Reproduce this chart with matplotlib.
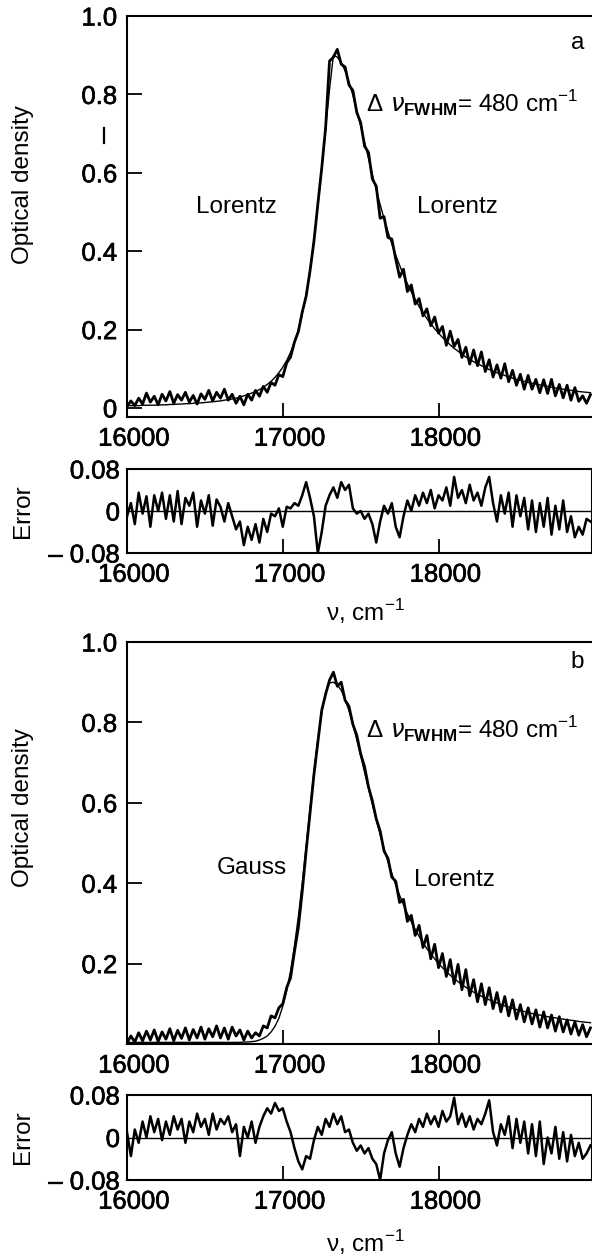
import numpy as np
import matplotlib
matplotlib.use("Agg")
import matplotlib.pyplot as plt
import matplotlib.patheffects as pe
from matplotlib.lines import Line2D
from matplotlib.transforms import ScaledTranslation

plt.rcParams['font.family'] = ['Liberation Sans', 'DejaVu Sans']
plt.rcParams['mathtext.fontset'] = 'custom'
plt.rcParams['mathtext.rm'] = 'Liberation Sans'
plt.rcParams['mathtext.bf'] = 'Liberation Sans:bold'
plt.rcParams['axes.linewidth'] = 1.5

# wavenumber grid, cm^-1 (25 cm^-1 step)
nu = 16000 + 25 * np.arange(120)

# (a) measured optical density
od_a = [
    0.004, 0.018, 0.006, 0.025, 0.010, 0.038, 0.015, 0.030, 0.008, 0.035,
    0.018, 0.042, 0.012, 0.034, 0.020, 0.040, 0.015, 0.032, 0.010, 0.036,
    0.022, 0.045, 0.018, 0.040, 0.025, 0.048, 0.020, 0.035, 0.012, 0.030,
    0.008, 0.035, 0.020, 0.045, 0.030, 0.055, 0.040, 0.065, 0.058, 0.085,
    0.080, 0.115, 0.130, 0.168, 0.195, 0.245, 0.285, 0.350, 0.425, 0.520,
    0.612, 0.715, 0.885, 0.895,
    0.915, 0.877, 0.870, 0.824, 0.810, 0.754, 0.728, 0.668, 0.652, 0.584,
    0.566, 0.484, 0.488, 0.435, 0.431, 0.380, 0.334, 0.354, 0.297, 0.314,
    0.265, 0.279, 0.235, 0.253, 0.210, 0.232, 0.191, 0.208, 0.160, 0.196,
    0.157, 0.175, 0.129, 0.155, 0.112, 0.148, 0.108, 0.143, 0.093, 0.123,
    0.079, 0.110, 0.076, 0.113, 0.067, 0.096, 0.058, 0.086, 0.048, 0.083,
    0.048, 0.073, 0.039, 0.072, 0.037, 0.073, 0.031, 0.060, 0.026, 0.058,
    0.020, 0.052, 0.017, 0.031, 0.012, 0.034,
]

# (a) Lorentz / Lorentz fit
fit_a = [
    0.006, 0.006, 0.006, 0.006, 0.007, 0.007, 0.007, 0.007, 0.008, 0.008,
    0.008, 0.009, 0.009, 0.010, 0.010, 0.011, 0.011, 0.012, 0.013, 0.013,
    0.014, 0.015, 0.016, 0.017, 0.018, 0.020, 0.021, 0.023, 0.025, 0.028,
    0.031, 0.034, 0.038, 0.042, 0.047, 0.053, 0.060, 0.068, 0.078, 0.090,
    0.104, 0.121, 0.142, 0.168, 0.200, 0.240, 0.290, 0.352, 0.428, 0.515,
    0.610, 0.712, 0.812, 0.900,
    0.895, 0.882, 0.860, 0.832, 0.798, 0.760, 0.720, 0.678, 0.637, 0.596,
    0.556, 0.519, 0.483, 0.450, 0.419, 0.390, 0.364, 0.339, 0.317, 0.296,
    0.277, 0.259, 0.243, 0.228, 0.215, 0.202, 0.191, 0.180, 0.170, 0.161,
    0.152, 0.145, 0.137, 0.130, 0.124, 0.118, 0.113, 0.108, 0.103, 0.098,
    0.094, 0.090, 0.086, 0.083, 0.079, 0.076, 0.073, 0.071, 0.068, 0.065,
    0.063, 0.061, 0.059, 0.057, 0.055, 0.053, 0.051, 0.050, 0.048, 0.046,
    0.045, 0.044, 0.042, 0.041, 0.040, 0.039,
]

# (a) fit residual
err_a = [
    -0.010, 0.015, -0.025, 0.035, -0.005, 0.028, -0.030, 0.030, 0.000, 0.035,
    -0.015, 0.030, -0.020, 0.038, -0.025, 0.025, 0.010, 0.035, -0.030, 0.020,
    -0.005, 0.030, -0.028, 0.022, 0.008, -0.020, 0.015, -0.010, -0.035, -0.020,
    -0.065, -0.030, -0.055, -0.025, -0.060, -0.015, -0.040, -0.005, -0.010, 0.005,
    -0.030, 0.008, 0.005, 0.015, 0.010, 0.030, 0.055, 0.025, -0.010, -0.080,
    -0.040, 0.010, 0.030, 0.045, 0.025, 0.055, 0.040, 0.050, 0.005, -0.005,
    0.000, -0.015, -0.005, -0.025, -0.060, -0.020, 0.010, -0.005, 0.015, -0.030,
    -0.050, -0.010, 0.020, 0.000, 0.030, 0.010, 0.035, 0.015, 0.040, 0.005,
    0.030, 0.020, 0.045, 0.010, 0.065, 0.025, 0.040, 0.015, 0.050, 0.020,
    0.035, 0.010, 0.045, 0.065, 0.015, -0.020, 0.030, -0.005, 0.035, -0.030,
    0.030, -0.010, 0.025, -0.035, 0.020, -0.040, 0.015, -0.030, 0.025, -0.045,
    0.010, -0.035, 0.020, -0.040, -0.010, -0.050, -0.030, -0.045, -0.015, -0.020,
]

# (b) measured optical density
od_b = [
    0.003, 0.020, 0.005, 0.028, 0.008, 0.032, 0.010, 0.035, 0.006, 0.030,
    0.012, 0.038, 0.008, 0.034, 0.014, 0.040, 0.010, 0.036, 0.015, 0.042,
    0.012, 0.038, 0.018, 0.045, 0.015, 0.040, 0.012, 0.042, 0.020, 0.035,
    0.010, 0.032, 0.015, 0.028, 0.020, 0.045, 0.040, 0.070, 0.065, 0.090,
    0.100, 0.140, 0.165, 0.230, 0.290, 0.380, 0.480, 0.575, 0.670, 0.750,
    0.830, 0.870, 0.905,
    0.925, 0.890, 0.900, 0.855, 0.840, 0.795, 0.768, 0.722, 0.690, 0.640,
    0.605, 0.560, 0.530, 0.480, 0.462, 0.415, 0.405, 0.352, 0.360, 0.305,
    0.320, 0.270, 0.295, 0.240, 0.270, 0.212, 0.248, 0.190, 0.225, 0.168,
    0.210, 0.150, 0.198, 0.135, 0.185, 0.120, 0.160, 0.105, 0.150, 0.098,
    0.140, 0.088, 0.128, 0.080, 0.118, 0.070, 0.110, 0.062, 0.098, 0.055,
    0.090, 0.050, 0.085, 0.042, 0.080, 0.040, 0.072, 0.032, 0.068, 0.030,
    0.060, 0.025, 0.055, 0.022, 0.048, 0.018, 0.040,
]

# (b) Gauss / Lorentz fit
fit_b = [
    0.004, 0.004, 0.004, 0.004, 0.004, 0.004, 0.004, 0.004, 0.004, 0.004,
    0.004, 0.004, 0.004, 0.004, 0.004, 0.004, 0.004, 0.004, 0.004, 0.004,
    0.004, 0.004, 0.004, 0.004, 0.004, 0.004, 0.004, 0.004, 0.004, 0.004,
    0.005, 0.005, 0.006, 0.007, 0.010, 0.014, 0.020, 0.030, 0.044, 0.064,
    0.094, 0.132, 0.182, 0.244, 0.317, 0.400, 0.491, 0.585, 0.676, 0.758,
    0.826, 0.874, 0.898,
    0.900, 0.893, 0.880, 0.857, 0.829, 0.795, 0.757, 0.717, 0.676, 0.636,
    0.596, 0.558, 0.521, 0.486, 0.454, 0.424, 0.396, 0.370, 0.346, 0.324,
    0.304, 0.285, 0.268, 0.252, 0.237, 0.224, 0.212, 0.200, 0.190, 0.180,
    0.171, 0.163, 0.155, 0.148, 0.141, 0.135, 0.129, 0.124, 0.119, 0.114,
    0.110, 0.106, 0.102, 0.098, 0.095, 0.092, 0.089, 0.086, 0.083, 0.081,
    0.078, 0.076, 0.074, 0.072, 0.070, 0.068, 0.066, 0.065, 0.063, 0.062,
    0.060, 0.059, 0.058, 0.056, 0.055, 0.054, 0.053,
]

# (b) fit residual
err_b = [
    0.010, -0.035, 0.015, -0.010, 0.030, 0.000, 0.040, 0.010, 0.035, -0.005,
    0.030, 0.005, 0.040, 0.015, 0.035, -0.010, 0.030, 0.010, 0.045, 0.020,
    0.035, 0.005, 0.045, 0.015, 0.035, 0.025, 0.040, 0.010, 0.025, -0.035,
    0.020, 0.000, 0.030, -0.010, 0.020, 0.040, 0.055, 0.045, 0.065, 0.050,
    0.055, 0.030, 0.010, -0.020, -0.045, -0.060, -0.035, -0.040, -0.005, 0.020,
    0.005, 0.035, 0.020, 0.045, 0.025, 0.040, 0.010, 0.015, -0.010, -0.025,
    -0.015, -0.030, -0.020, -0.040, -0.050, -0.080, -0.030, -0.005, 0.010, -0.030,
    -0.055, -0.020, 0.005, 0.025, 0.010, 0.035, 0.020, 0.045, 0.025, 0.040,
    0.020, 0.050, 0.030, 0.040, 0.075, 0.025, 0.045, 0.020, 0.040, 0.015,
    0.035, 0.025, 0.045, 0.070, 0.010, -0.015, 0.025, 0.005, 0.040, -0.020,
    0.035, -0.010, 0.030, -0.030, 0.025, -0.035, 0.030, -0.050, 0.000, -0.030,
    0.020, -0.040, 0.010, -0.045, 0.005, -0.035, -0.010, -0.040, -0.030, -0.015,
]

for arr in (od_a, fit_a, err_a, od_b, fit_b, err_b):
    assert len(arr) == len(nu), len(arr)

xticks = [16000, 17000, 18000]
xlim = (16000, 18985)
W, H = 592, 1259


def px_axes(top, bottom, left=127, right=592):
    return [left / W, 1 - bottom / H, (right - left) / W, (bottom - top) / H]


fig = plt.figure(figsize=(W / 100, H / 100), dpi=100)

ax_a = fig.add_axes(px_axes(16, 417))
ax_ea = fig.add_axes(px_axes(469, 553))
ax_b = fig.add_axes(px_axes(642, 1044))
ax_eb = fig.add_axes(px_axes(1095, 1180))

TICK_FS = 18.5
LABEL_FS = 17.5
heavy = [pe.withStroke(linewidth=0.45, foreground='black')]
shift = ScaledTranslation(0.07, 0, fig.dpi_scale_trans)


def style(ax):
    ax.set_xlim(*xlim)
    ax.set_xticks(xticks)
    ax.set_xticklabels([str(t) for t in xticks])
    ax.tick_params(direction='in', labelsize=TICK_FS, width=1.3,
                   top=False, right=False, pad=7)
    ax.tick_params(axis='x', length=10)
    for lab in ax.get_xticklabels():
        lab.set_transform(lab.get_transform() + shift)


def heavy_ticklabels(ax):
    for lab in ax.get_xticklabels() + ax.get_yticklabels():
        lab.set_path_effects(heavy)


def spectrum(ax, od, fit, ylim, yticks, ylabels, label_y):
    ax.plot(nu, od, color='black', lw=2.0, solid_joinstyle='round')
    ax.plot(nu, fit, color='black', lw=1.0)
    style(ax)
    ax.set_ylim(*ylim)
    ax.set_yticks(yticks)
    ax.set_yticklabels(ylabels)
    ax.tick_params(axis='y', length=11)
    ax.spines['right'].set_visible(False)
    ax.set_ylabel('Optical density', fontsize=LABEL_FS)
    ax.yaxis.set_label_coords(-0.20, label_y)
    heavy_ticklabels(ax)


def residual(ax, err):
    ax.plot(nu, err, color='black', lw=1.8, solid_joinstyle='round')
    ax.axhline(0, color='black', lw=1.0)
    style(ax)
    ax.set_ylim(-0.08, 0.08)
    ax.set_yticks([-0.08, 0, 0.08])
    ax.set_yticklabels(['\u2013 0.08', '0', '0.08'])
    ax.tick_params(axis='y', length=0, pad=5)
    ax.set_ylabel('Error', fontsize=LABEL_FS)
    ax.yaxis.set_label_coords(-0.20, 0.5)
    heavy_ticklabels(ax)


fwhm = r'$\Delta\ \nu_{\mathbf{FWHM}}$= 480 cm$^{-1}$'

spectrum(ax_a, od_a, fit_a, (-0.023, 1.0), [0, 0.2, 0.4, 0.6, 0.8, 1.0],
         ['0', '0.2', '0.4', '0.6', '0.8', '1.0'], 0.58)
ax_a.text(18890, 0.93, 'a', fontsize=LABEL_FS, ha='center', va='center')
ax_a.text(16705, 0.513, 'Lorentz', fontsize=LABEL_FS, ha='center', va='center')
ax_a.text(18120, 0.513, 'Lorentz', fontsize=LABEL_FS, ha='center', va='center')
ax_a.text(17535, 0.775, fwhm, fontsize=LABEL_FS, ha='left', va='center')
residual(ax_ea, err_a)

spectrum(ax_b, od_b, fit_b, (0, 1.0), [0.2, 0.4, 0.6, 0.8, 1.0],
         ['0.2', '0.4', '0.6', '0.8', '1.0'], 0.587)
ax_b.text(18890, 0.95, 'b', fontsize=LABEL_FS, ha='center', va='center')
ax_b.text(16800, 0.438, 'Gauss', fontsize=LABEL_FS, ha='center', va='center')
ax_b.text(18105, 0.408, 'Lorentz', fontsize=LABEL_FS, ha='center', va='center')
ax_b.text(17535, 0.78, fwhm, fontsize=LABEL_FS, ha='left', va='center')
residual(ax_eb, err_b)

xlab = 'ν, cm$^{-1}$'
fig.text(365 / W, 1 - 612 / H, xlab, fontsize=LABEL_FS, ha='center', va='center')
fig.text(365 / W, 1 - 1243 / H, xlab, fontsize=LABEL_FS, ha='center', va='center')

# short stroke left of the 0.8 label
fig.add_artist(Line2D([104 / W, 104 / W], [1 - 128 / H, 1 - 143 / H],
                      color='black', lw=1.6))

fig.savefig('out.png', dpi=100)
